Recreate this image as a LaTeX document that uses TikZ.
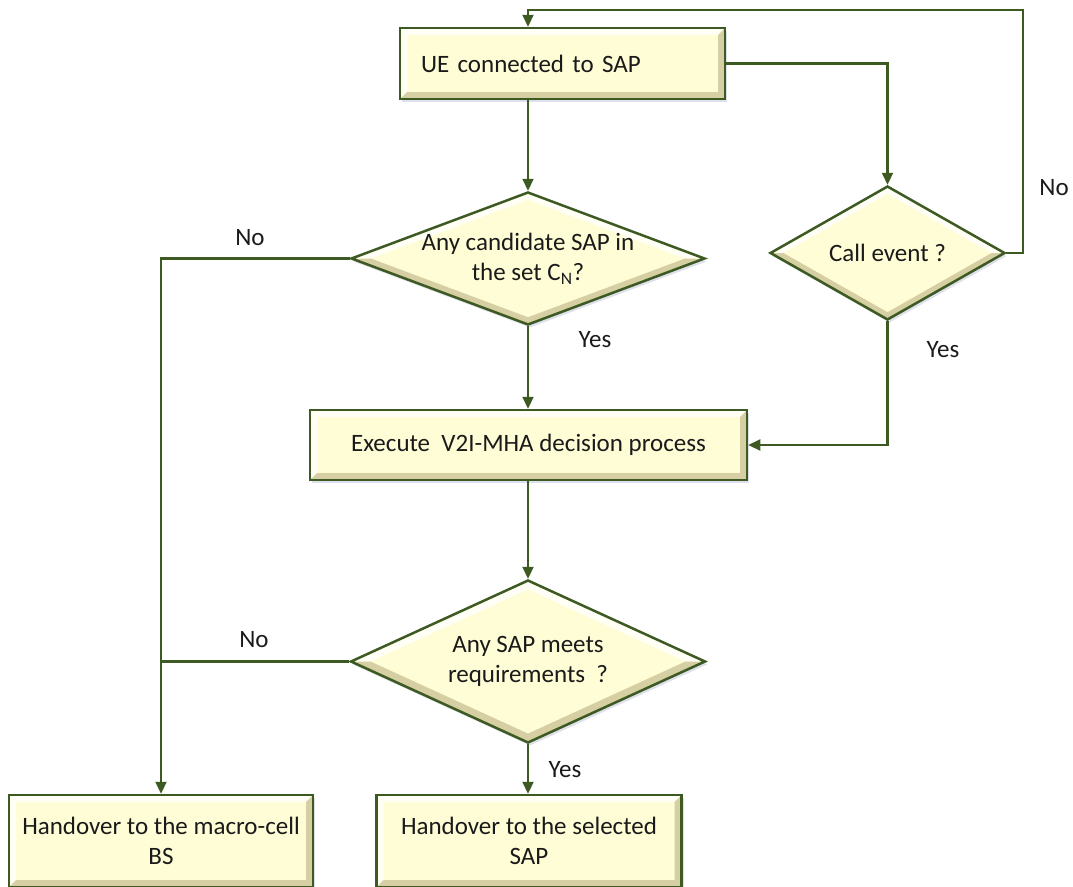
\documentclass[tikz,border=0pt]{standalone}
\usepackage{fontspec}
\setmainfont{Carlito}
\usetikzlibrary{arrows.meta,shapes.geometric,calc,shadows}
\definecolor{cream}{HTML}{FFFDD6}
\definecolor{dgreen}{HTML}{3D5A22}
\definecolor{shadeC}{HTML}{D6CFA3}
\definecolor{hiliteC}{HTML}{FFFFF6}
\definecolor{txtC}{HTML}{1A1A1A}
\begin{document}
\begin{tikzpicture}[x=1pt,y=-1pt,
  every node/.style={font=\fontsize{25}{30}\selectfont, text=txtC},
  softshadow/.style={drop shadow={shadow xshift=2pt, shadow yshift=-3pt, fill=black!60!blue, opacity=0.12}},
  bevelR/.style={path picture={
    \fill[hiliteC] (path picture bounding box.north west) -- (path picture bounding box.north east)
      -- ([xshift=-7pt,yshift=-7pt]path picture bounding box.north east)
      -- ([xshift=7pt,yshift=-7pt]path picture bounding box.north west)
      -- ([xshift=7pt,yshift=7pt]path picture bounding box.south west)
      -- (path picture bounding box.south west) -- cycle;
    \fill[shadeC] (path picture bounding box.south east) -- (path picture bounding box.north east)
      -- ([xshift=-7pt,yshift=-7pt]path picture bounding box.north east)
      -- ([xshift=-7pt,yshift=7pt]path picture bounding box.south east)
      -- ([xshift=7pt,yshift=7pt]path picture bounding box.south west)
      -- (path picture bounding box.south west) -- cycle;
  }},
  bevelD/.style={path picture={
    \coordinate (pc) at (path picture bounding box.center);
    \fill[hiliteC] (path picture bounding box.west) -- (path picture bounding box.north) -- (path picture bounding box.east)
      -- ($(pc)!0.89!(path picture bounding box.east)$)
      -- ($(pc)!0.89!(path picture bounding box.north)$)
      -- ($(pc)!0.89!(path picture bounding box.west)$) -- cycle;
    \fill[shadeC] (path picture bounding box.west) -- (path picture bounding box.south) -- (path picture bounding box.east)
      -- ($(pc)!0.89!(path picture bounding box.east)$)
      -- ($(pc)!0.89!(path picture bounding box.south)$)
      -- ($(pc)!0.89!(path picture bounding box.west)$) -- cycle;
  }},
  procbox/.style={rectangle, draw=dgreen, line width=2.5pt, fill=cream, inner sep=0pt, align=center, softshadow, bevelR},
  decbox/.style={diamond, draw=dgreen, line width=2.5pt, fill=cream, inner sep=0pt, softshadow, bevelD},
  dectext/.style={align=center, inner sep=0pt},
  conn/.style={draw=dgreen, line width=2.2pt},
  arr/.style={conn, -{Triangle[width=11pt,length=12pt]}},
  lbl/.style={inner sep=0pt}
]
\useasboundingbox (0,0) rectangle (1073,886);

% process boxes
\node[procbox, minimum width=325pt, minimum height=71pt, text width=283pt, align=left] (top) at (562.5,63.5) {UE connected to SAP};
\node[procbox, minimum width=437pt, minimum height=70pt] (exec) at (528.5,445) {Execute~~V2I-MHA decision process};
\node[procbox, minimum width=304pt, minimum height=92pt] (bl) at (161,841) {Handover to the macro-cell\\BS};
\node[procbox, minimum width=305pt, minimum height=92pt] (br) at (529,841) {Handover to the selected\\SAP};

% decisions
\node[decbox, minimum width=354pt, minimum height=133pt] (d1) at (528,258.5) {};
\node[dectext] (t1) at (d1.center) {Any candidate SAP in\\the set C\textsubscript{N}?};
\node[decbox, minimum width=235pt, minimum height=134pt] (d2) at (887.5,253) {};
\node[dectext] (t2) at (d2.center) {Call event ?};
\node[decbox, minimum width=355pt, minimum height=163pt] (d3) at (528,661.5) {};
\node[dectext] (t3) at (d3.center) {Any SAP meets\\requirements~~?};

% helper coordinates
\coordinate (fbR) at (1023,10);

% connectors
\draw[arr] (d2.east) -| (fbR) -| (d1.north |- top.north);
\draw[arr] (top.east) -| (d2.north);
\draw[arr] (d1.north |- top.south) -- (d1.north);
\draw[arr] (d1.west) -| (bl.north);
\draw[conn] (d3.west) -- (bl.north |- d3.west);
\draw[arr] (d1.south) -- (exec.north -| d1.south);
\draw[arr] (d2.south) |- (exec.east);
\draw[arr] (exec.south -| d3.north) -- (d3.north);
\draw[arr] (d3.south) -- (br.north -| d3.south);

% labels
\node[lbl] (n1) at (250,238) {No};
\node[lbl] (y1) at (595,340) {Yes};
\node[lbl] (n2) at (1054,188) {No};
\node[lbl] (y2) at (943,350) {Yes};
\node[lbl] (n3) at (254,640) {No};
\node[lbl] (y3) at (565,770) {Yes};
\end{tikzpicture}
\end{document}
